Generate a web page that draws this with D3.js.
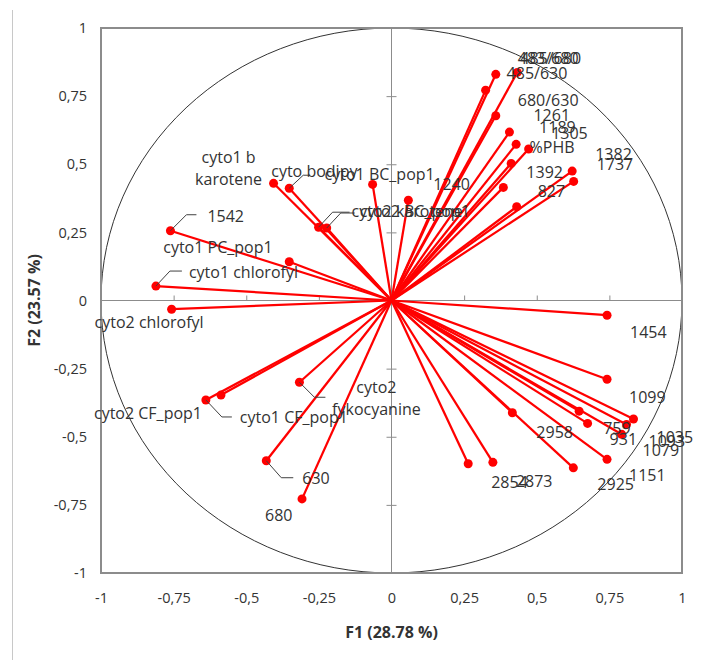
<!DOCTYPE html>
<html>
<head>
<meta charset="utf-8">
<script src="https://cdn.jsdelivr.net/npm/d3@7"></script>
<style>
body { margin: 0; background: #fff; }
text { font-family: "Open Sans", Lato, sans-serif; }
</style>
</head>
<body>
<div class="chart"></div>
<script>
// variables of the correlation circle (F1 / F2 loadings)
var varNames = ["483/680", "485/680", "485/630", "680/630", "1261", "1189", "%PHB", "1305",
    "1382", "1737", "1392", "827", "1240",
    "cyto1 b\nkarotene", "cyto bodipy", "cyto1 BC_pop1", "cyto2 karotene", "cyto2 BC_pop1",
    "1542", "cyto1 PC_pop1", "cyto1 chlorofyl", "cyto2 chlorofyl", "cyto1 CF_pop1",
    "cyto2 CF_pop1", "cyto2\nfykocyanine", "630", "680",
    "1454", "1099", "2958", "759", "931", "1035", "1093", "1079", "1151", "2925", "2873", "2854"];

var f1 = [0.359, 0.433, 0.324, 0.359, 0.406, 0.429, 0.472, 0.412,
    0.622, 0.627, 0.385, 0.431, 0.058,
    -0.406, -0.352, -0.065, -0.251, -0.223,
    -0.761, -0.352, -0.811, -0.757, -0.639,
    -0.587, -0.317, -0.431, -0.308,
    0.742, 0.742, 0.416, 0.646, 0.675, 0.833, 0.809, 0.792, 0.742, 0.626, 0.349, 0.264];

var f2 = [0.830, 0.837, 0.772, 0.678, 0.618, 0.573, 0.556, 0.503,
    0.475, 0.437, 0.415, 0.344, 0.368,
    0.430, 0.412, 0.426, 0.269, 0.266,
    0.256, 0.142, 0.053, -0.032, -0.365,
    -0.347, -0.300, -0.588, -0.728,
    -0.054, -0.289, -0.412, -0.406, -0.451, -0.435, -0.455, -0.491, -0.583, -0.614, -0.594, -0.599];

var tickValues = [-1, -0.75, -0.5, -0.25, 0, 0.25, 0.5, 0.75, 1];
var xTitle = "F1 (28.78 %)";
var yTitle = "F2 (23.57 %)";

// label placement (pixel offset from the point) + optional leader line [elbow dx, elbow dy, length]
var labelLayout = [
    [22, -10], [3, -8], [21, -11], [22, -10], [24, -11], [23, -11], [1, 4], [40, -24],
    [23, -11], [23, -11], [23, -9], [21, -10], [25, -10],
    [-45, -20], [-18, -11, [14, -13, 7]], [-48, -4], [33, -10, [14, -15, 17]], [33, -11, [14, -15, 14]],
    [37, -9, [16, -16, 10]], [-126, -9], [33, -8, [14, -15, 12]], [-77, 19], [34, 23, [16, 17, 10]],
    [-127, 24], [77, 11, [15, 15, 11]], [36, 23, [15, 17, 12]], [-37, 22],
    [23, 23], [22, 24], [24, 25], [24, 23], [22, 22], [23, 24], [22, 23], [21, 22], [22, 22], [24, 22], [23, 25], [23, 24]
];

var width = 703;
var height = 660;

var svg = d3.select(".chart")
    .append("svg")
    .attr("width", width)
    .attr("height", height);

var x = d3.scaleLinear().domain([-1, 1]).range([101, 682]);
var y = d3.scaleLinear().domain([-1, 1]).range([573, 28]);

var fmt = function (d) { return String(d).replace(".", ","); };

// chart area border (left edge only visible)
svg.append("line")
    .attr("x1", 12.5).attr("x2", 12.5)
    .attr("y1", 10).attr("y2", height)
    .attr("stroke", "#c8c8c8")
    .attr("stroke-width", 1);

// tick labels
var xAxis = svg.append("g")
    .attr("transform", "translate(0," + y(-1) + ")")
    .call(d3.axisBottom(x).tickValues(tickValues).tickFormat(fmt).tickSize(0).tickPadding(20));
var yAxis = svg.append("g")
    .attr("transform", "translate(" + x(-1) + ",0)")
    .call(d3.axisLeft(y).tickValues(tickValues).tickFormat(fmt).tickSize(0).tickPadding(14));
svg.selectAll(".domain").remove();
svg.selectAll(".tick text")
    .style("font-family", "'Open Sans', sans-serif")
    .style("font-size", "14.5px")
    .attr("fill", "#333");

// unit circle
svg.append("ellipse")
    .attr("cx", x(0)).attr("cy", y(0))
    .attr("rx", x(1) - x(0)).attr("ry", y(0) - y(1))
    .attr("fill", "none")
    .attr("stroke", "#333")
    .attr("stroke-width", 1);

// zero axes with ticks
svg.append("line")
    .attr("x1", x(-1)).attr("x2", x(1))
    .attr("y1", y(0)).attr("y2", y(0))
    .attr("stroke", "#8c8c8c");
svg.append("line")
    .attr("x1", x(0)).attr("x2", x(0))
    .attr("y1", y(1)).attr("y2", y(-1))
    .attr("stroke", "#8c8c8c");

var zeroTicks = svg.append("g");
zeroTicks.append("g")
    .attr("transform", "translate(0," + y(0) + ")")
    .call(d3.axisTop(x).tickValues(tickValues).tickFormat("").tickSizeOuter(0).tickSize(5));
zeroTicks.append("g")
    .attr("transform", "translate(" + x(0) + ",0)")
    .call(d3.axisLeft(y).tickValues(tickValues).tickFormat("").tickSizeOuter(0).tickSize(5));
zeroTicks.append("g")
    .attr("transform", "translate(" + x(0) + ",0)")
    .call(d3.axisRight(y).tickValues(tickValues).tickFormat("").tickSizeOuter(0).tickSize(5));
zeroTicks.selectAll(".domain").remove();
zeroTicks.selectAll("line").attr("stroke", "#8c8c8c");

// plot frame
svg.append("rect")
    .attr("x", x(-1)).attr("y", y(1))
    .attr("width", x(1) - x(-1))
    .attr("height", y(-1) - y(1))
    .attr("fill", "none")
    .attr("stroke", "#8c8c8c")
    .attr("stroke-width", 2);

// axis titles
svg.append("text")
    .attr("x", x(0))
    .attr("y", 638)
    .attr("text-anchor", "middle")
    .style("font-size", "16px")
    .style("font-weight", "bold")
    .attr("fill", "#333")
    .text(xTitle);
svg.append("text")
    .attr("transform", "translate(40," + y(0) + ") rotate(-90)")
    .attr("text-anchor", "middle")
    .style("font-size", "16px")
    .style("font-weight", "bold")
    .attr("fill", "#333")
    .text(yTitle);

var idx = d3.range(varNames.length);

// vectors
var g = svg.append("g");
g.selectAll("line.vec")
    .data(idx)
    .enter()
    .append("line")
    .attr("class", "vec")
    .attr("x1", x(0)).attr("y1", y(0))
    .attr("x2", function (i) { return x(f1[i]); })
    .attr("y2", function (i) { return y(f2[i]); })
    .attr("stroke", "#ff0000")
    .attr("stroke-width", 2.25);

g.selectAll("circle")
    .data(idx)
    .enter()
    .append("circle")
    .attr("cx", function (i) { return x(f1[i]); })
    .attr("cy", function (i) { return y(f2[i]); })
    .attr("r", 4.5)
    .attr("fill", "#ff0000");

// leader lines
var lead = svg.append("g");
lead.selectAll("polyline")
    .data(idx.filter(function (i) { return labelLayout[i][2]; }))
    .enter()
    .append("polyline")
    .attr("points", function (i) {
        var px = x(f1[i]), py = y(f2[i]), L = labelLayout[i][2];
        return [[px, py], [px + L[0], py + L[1]], [px + L[0] + L[2], py + L[1]]].join(" ");
    })
    .attr("fill", "none")
    .attr("stroke", "#404040")
    .attr("stroke-width", 1);

// data labels
var labels = svg.append("g");
labels.selectAll("text")
    .data(idx)
    .enter()
    .append("text")
    .attr("x", function (i) { return x(f1[i]) + labelLayout[i][0]; })
    .attr("y", function (i) { return y(f2[i]) + labelLayout[i][1]; })
    .attr("text-anchor", function (i) { return varNames[i].indexOf("\n") >= 0 ? "middle" : "start"; })
    .style("font-size", "16px")
    .attr("fill", "#333")
    .each(function (i) {
        var t = d3.select(this);
        var px = x(f1[i]) + labelLayout[i][0];
        varNames[i].split("\n").forEach(function (line, k) {
            t.append("tspan")
                .attr("x", px)
                .attr("dy", k == 0 ? 0 : 22)
                .text(line);
        });
    });
</script>
</body>
</html>
